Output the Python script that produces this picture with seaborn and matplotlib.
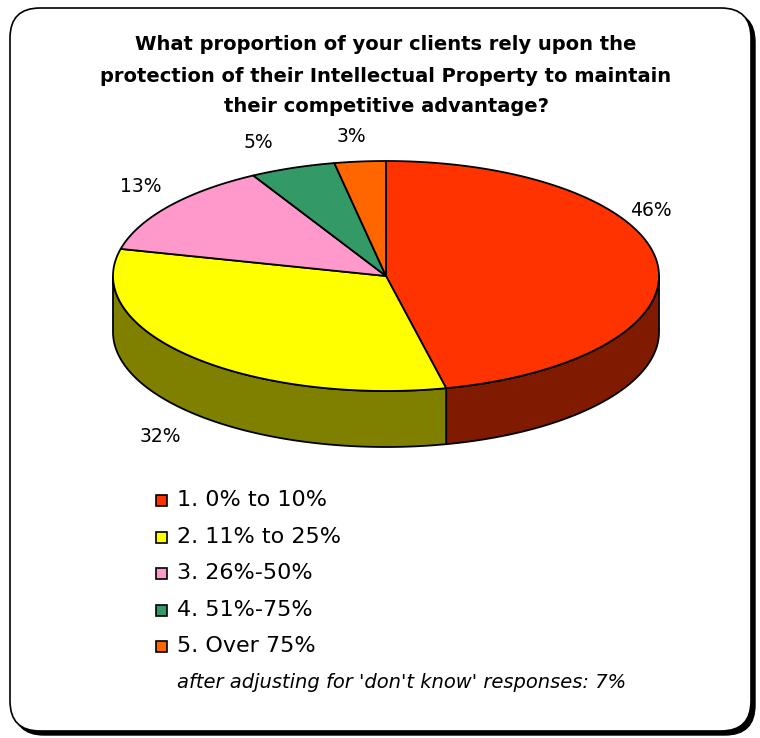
import numpy as np
import matplotlib
matplotlib.use("Agg")
import matplotlib.pyplot as plt
from matplotlib.patches import Polygon, Rectangle, FancyBboxPatch
import seaborn as sns

# Survey results
categories = ["1. 0% to 10%", "2. 11% to 25%", "3. 26%-50%", "4. 51%-75%", "5. Over 75%"]
shares = [46, 32, 13, 5, 3]
pct_labels = ["46%", "32%", "13%", "5%", "3%"]
title_lines = [
    "What proportion of your clients rely upon the",
    "protection of their Intellectual Property to maintain",
    "their competitive advantage?",
]
note = "after adjusting for 'don't know' responses: 7%"

sns.set_theme(style="white")
plt.rcParams["font.family"] = ["DejaVu Sans"]

top_colors = sns.color_palette(["#FF3300", "#FFFF00", "#FF99CC", "#339966", "#FF6600"])
side_colors = ["#801A00", "#808000", "#804C66", "#1A4C33", "#803300"]

W, H = 760, 738
fig = plt.figure(figsize=(W / 100, H / 100), dpi=100)
ax = fig.add_axes([0, 0, 1, 1])
ax.set_xlim(0, W)
ax.set_ylim(H, 0)
ax.axis("off")

# Rounded frame with drop shadow
shadow = FancyBboxPatch((14, 12), 741, 723, boxstyle="round,pad=0,rounding_size=30",
                        fc="black", ec="black", lw=1, zorder=0)
frame = FancyBboxPatch((10, 8), 741, 723, boxstyle="round,pad=0,rounding_size=30",
                       fc="white", ec="black", lw=1.2, zorder=1)
ax.add_patch(shadow)
ax.add_patch(frame)

# Title
for i, line in enumerate(title_lines):
    ax.text(386, 45 + i * 31, line, ha="center", va="center", fontsize=14,
            fontweight="bold", color="black", zorder=5)

# 3D pie geometry
cx, cy, rx, ry, depth = 386, 276, 273, 115, 56


def ellipse_pts(t0, t1, dy=0.0, n=120):
    t = np.deg2rad(np.linspace(t0, t1, n))
    return np.column_stack([cx + rx * np.sin(t), cy - ry * np.cos(t) + dy])


vals = np.array(shares, dtype=float)
edges = np.concatenate([[0], np.cumsum(vals) / vals.sum() * 360])

# Side walls (front half only is visible)
for i in range(len(vals)):
    lo, hi = max(edges[i], 90), min(edges[i + 1], 270)
    if lo < hi:
        top = ellipse_pts(lo, hi)
        bot = ellipse_pts(hi, lo, dy=depth)
        ax.add_patch(Polygon(np.vstack([top, bot]), closed=True, fc=side_colors[i],
                             ec="black", lw=1.3, joinstyle="round", zorder=2))

# Top faces
for i in range(len(vals)):
    arc = ellipse_pts(edges[i], edges[i + 1])
    poly = np.vstack([[cx, cy], arc])
    ax.add_patch(Polygon(poly, closed=True, fc=top_colors[i], ec="black", lw=1.3,
                         joinstyle="round", zorder=3))

# Percentage labels
label_pos = [(651, 211), (160, 437), (141, 186), (258, 143), (351, 136)]
for txt, (lx, ly) in zip(pct_labels, label_pos):
    ax.text(lx, ly, txt, ha="center", va="center", fontsize=13.5, color="black", zorder=5)

# Legend
row_y = [500, 537, 573, 610, 646]
for i, (lab, y) in enumerate(zip(categories, row_y)):
    ax.add_patch(Rectangle((156, y - 5.5), 11, 11, fc=top_colors[i], ec="black",
                           lw=1.2, zorder=5))
    ax.text(177, y, lab, ha="left", va="center", fontsize=16, color="black", zorder=5)

ax.text(177, 683, note, ha="left", va="center", fontsize=14, style="italic",
        color="black", zorder=5)

fig.savefig("out.png", dpi=100)
